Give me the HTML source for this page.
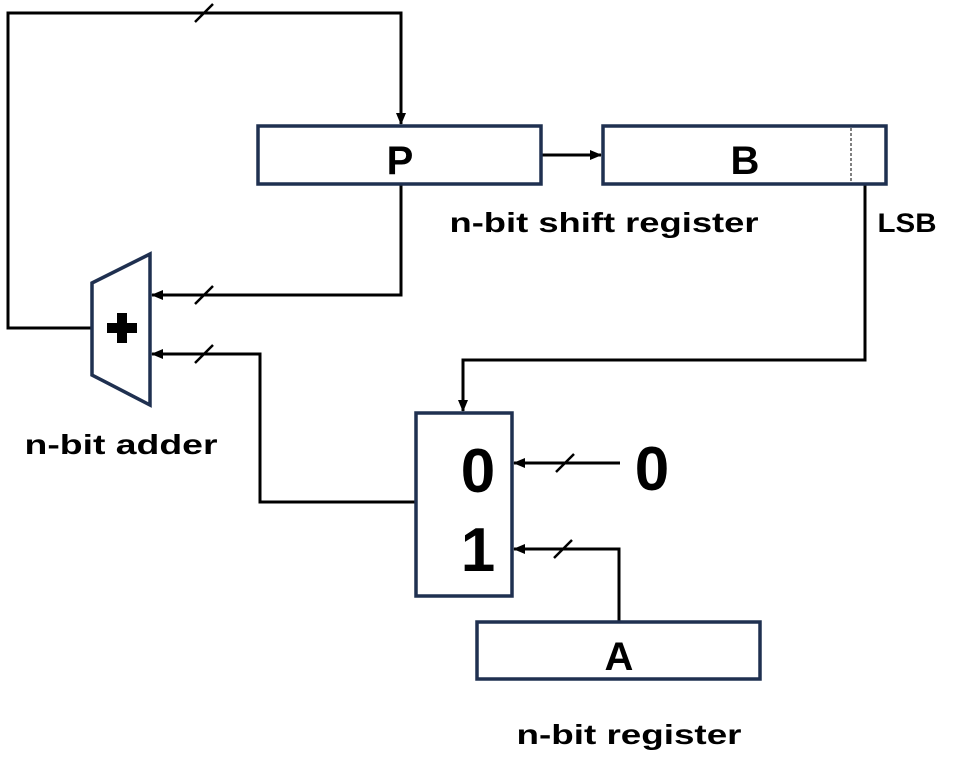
<!DOCTYPE html>
<html><head><meta charset="utf-8"><style>html,body{margin:0;padding:0;background:#fff}svg{display:block}</style></head>
<body>
<svg width="960" height="777" viewBox="0 0 960 777" xmlns="http://www.w3.org/2000/svg" font-family="Liberation Sans, sans-serif" font-weight="bold">
<defs><marker id="a" markerWidth="12" markerHeight="10" refX="11" refY="5" orient="auto" markerUnits="userSpaceOnUse"><path d="M0,0 L12,5 L0,10 Z" fill="#000"/></marker></defs>
<g fill="none" stroke="#000" stroke-width="3">
<polyline points="92,328 8,328 8,13 401,13 401,124" marker-end="url(#a)"/>
<line x1="541" y1="155" x2="601" y2="155" marker-end="url(#a)"/>
<polyline points="401,184 401,295 152,295" marker-end="url(#a)"/>
<polyline points="416,502 260,502 260,354 152,354" marker-end="url(#a)"/>
<polyline points="865,184 865,360 463,360 463,411" marker-end="url(#a)"/>
<line x1="620" y1="463" x2="514" y2="463" marker-end="url(#a)"/>
<polyline points="619,622 619,549 514,549" marker-end="url(#a)"/>
<g stroke-width="2.5">
<line x1="195" y1="22" x2="213" y2="4"/>
<line x1="195" y1="304" x2="213" y2="286"/>
<line x1="195" y1="363" x2="213" y2="345"/>
<line x1="556" y1="472" x2="574" y2="454"/>
<line x1="554" y1="558" x2="572" y2="540"/>
</g>
</g>
<g fill="#fff" stroke="#1f3050" stroke-width="3.5">
<rect x="258" y="126" width="283" height="58"/>
<rect x="603" y="126" width="283" height="58"/>
<rect x="416" y="413" width="96" height="183"/>
<rect x="477" y="622" width="283" height="57"/>
<polygon points="92,283 150,254 150,405 92,375"/>
</g>
<line x1="851" y1="128" x2="851" y2="182" stroke="#000" stroke-width="1" stroke-dasharray="3,2"/>
<path d="M117,313 h10 v10 h10 v10 h-10 v10 h-10 v-10 h-10 v-10 h10 Z" fill="#000"/>
<g fill="#000" text-anchor="middle">
<text x="400" y="174" font-size="40">P</text>
<text x="745" y="174" font-size="40">B</text>
<text x="619" y="670" font-size="40">A</text>
<text x="478" y="492" font-size="62">0</text>
<text x="478" y="571" font-size="62">1</text>
<text x="652" y="490" font-size="62">0</text>
<text x="604" y="232" font-size="28" textLength="309" lengthAdjust="spacingAndGlyphs">n-bit shift register</text>
<text x="907" y="232" font-size="27" textLength="59" lengthAdjust="spacingAndGlyphs">LSB</text>
<text x="121" y="454" font-size="28" textLength="193" lengthAdjust="spacingAndGlyphs">n-bit adder</text>
<text x="629" y="744" font-size="28" textLength="225" lengthAdjust="spacingAndGlyphs">n-bit register</text>
</g>
</svg>
</body></html>
